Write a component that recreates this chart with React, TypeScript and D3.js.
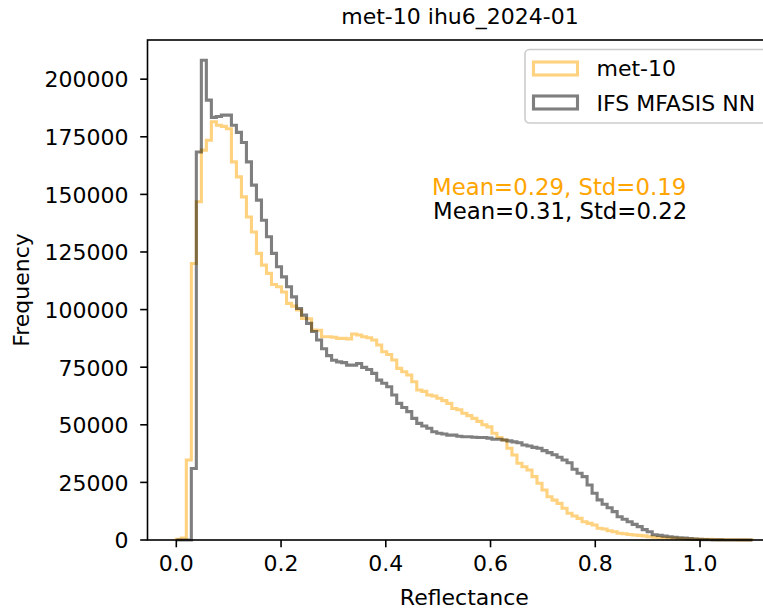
import React from 'react';
import * as d3 from 'd3';

const TITLE = 'met-10 ihu6_2024-01';
const X_LABEL = 'Reflectance';
const Y_LABEL = 'Frequency';
const BIN_MIN = 0;
const BIN_MAX = 1.1;
const BIN_COUNT = 115;
const X_TICKS = [0, 0.2, 0.4, 0.6, 0.8, 1.0];
const Y_TICKS = [0, 25000, 50000, 75000, 100000, 125000, 150000, 175000, 200000];
const SERIES_NAMES = ['met-10', 'IFS MFASIS NN'];
const STATS_TEXT = ['Mean=0.29, Std=0.19', 'Mean=0.31, Std=0.22'];

const met10Counts = [
  300, 800, 34700, 120000, 146800, 169200, 173500, 181500, 180000, 179500,
  178500, 164100, 157600, 148900, 140200, 133700, 124400, 119300, 115700, 110900,
  109900, 107600, 102700, 101500, 99800, 96200, 96000, 91100, 91000, 88200,
  88200, 88000, 87500, 87500, 87300, 89400, 89000, 88200, 87800, 86800,
  84600, 81700, 80500, 78100, 74500, 73000, 71600, 68700, 65100, 64500,
  62900, 62500, 61500, 60500, 59300, 57100, 56500, 55000, 54000, 52800,
  51500, 50000, 49100, 46300, 44500, 43400, 39800, 36900, 33300, 31800,
  30400, 27500, 24600, 21700, 18800, 17300, 15900, 13800, 11600, 10400,
  9400, 7900, 7200, 6500, 5100, 4800, 4000, 3600, 2900, 2700,
  2400, 2200, 2000, 1800, 1400, 1200, 1000, 900, 800, 700,
  600, 500, 450, 400, 350, 300, 250, 200, 150, 120,
  100, 80, 60, 40, 30,
];

const ifsCounts = [
  0, 0, 0, 31000, 168400, 208200, 190900, 183400, 183800, 184400,
  184400, 180000, 176900, 172500, 164100, 154000, 147500, 138800, 131600, 124400,
  118600, 114200, 109900, 105500, 100500, 97600, 94000, 90500, 86800, 83000,
  80000, 78000, 77300, 77000, 75900, 75900, 76600, 74900, 74000, 72300,
  69400, 68000, 66500, 62900, 59300, 57500, 55700, 52800, 50600, 49500,
  48500, 47000, 46300, 46000, 45500, 45500, 45000, 44800, 44800, 44600,
  44500, 44500, 44200, 43700, 43700, 43400, 43000, 42600, 42200, 41200,
  40800, 40200, 39800, 38800, 37900, 37000, 35900, 34700, 33500, 30700,
  29000, 27500, 23900, 20300, 17400, 15500, 14000, 12300, 10100, 9000,
  7900, 6800, 5800, 4500, 3600, 2300, 2000, 1700, 1400, 1200,
  1000, 800, 600, 400, 250, 150, 100, 60, 40, 20,
  10, 5, 0, 0, 0,
];

const W = 763;
const H = 610;
const PLOT = { left: 147.5, right: 781.2, top: 40, bottom: 540 };
const FONT = 'DejaVu Sans, Liberation Sans, sans-serif';
const FS = 22;

export default function App() {
  const x = d3.scaleLinear().domain([-0.055, 1.155]).range([PLOT.left, PLOT.right]);
  const y = d3.scaleLinear().domain([0, 217000]).range([PLOT.bottom, PLOT.top]);
  const edges = d3.range(BIN_COUNT + 1).map((i) => BIN_MIN + (i * (BIN_MAX - BIN_MIN)) / BIN_COUNT);

  const stepPath = (counts: number[]) => {
    const pts: [number, number][] = [[x(edges[0]), y(0)]];
    counts.forEach((c, i) => pts.push([x(edges[i]), y(c)]));
    pts.push([x(edges[BIN_COUNT]), y(0)]);
    return d3.line().curve(d3.curveStepAfter)(pts) || '';
  };

  const colors = ['orange', 'black'];
  const series = [met10Counts, ifsCounts];
  const cx = (PLOT.left + PLOT.right) / 2;

  return (
    <svg
      width={W}
      height={H}
      style={{ position: 'absolute', left: 0, top: 0, background: '#fff' }}
      fontFamily={FONT}
    >
      <rect x={0} y={0} width={W} height={H} fill="#fff" />
      {series.map((s, k) => (
        <path
          key={k}
          d={stepPath(s)}
          fill="none"
          stroke={colors[k]}
          strokeOpacity={0.5}
          strokeWidth={3.1}
          strokeLinejoin="miter"
        />
      ))}
      <rect
        x={PLOT.left}
        y={PLOT.top}
        width={PLOT.right - PLOT.left}
        height={PLOT.bottom - PLOT.top}
        fill="none"
        stroke="#000"
        strokeWidth={1.6}
      />
      {X_TICKS.map((t) => (
        <g key={t} transform={`translate(${x(t)},0)`}>
          <line y1={PLOT.bottom} y2={PLOT.bottom + 7.3} stroke="#000" strokeWidth={1.6} />
          <text y={571} textAnchor="middle" fontSize={FS} fill="#000">
            {d3.format('.1f')(t)}
          </text>
        </g>
      ))}
      {Y_TICKS.map((t) => (
        <g key={t} transform={`translate(0,${y(t)})`}>
          <line x1={PLOT.left} x2={PLOT.left - 7.3} stroke="#000" strokeWidth={1.6} />
          <text x={PLOT.left - 19} y={8.3} textAnchor="end" fontSize={FS} fill="#000">
            {String(t)}
          </text>
        </g>
      ))}
      <text x={cx} y={605} textAnchor="middle" fontSize={FS} fill="#000">
        {X_LABEL}
      </text>
      <text
        transform={`translate(29,${(PLOT.top + PLOT.bottom) / 2}) rotate(-90)`}
        textAnchor="middle"
        fontSize={FS}
        fill="#000"
      >
        {Y_LABEL}
      </text>
      <text x={460} y={24} textAnchor="middle" fontSize={FS} fill="#000">
        {TITLE}
      </text>
      <text x={432} y={195} fontSize={22.8} fill="orange">
        {STATS_TEXT[0]}
      </text>
      <text x={433} y={218.5} fontSize={22.8} fill="#000">
        {STATS_TEXT[1]}
      </text>
      <rect x={525} y={49.5} width={246} height={73.5} rx={4.5} fill="#fff" fillOpacity={0.8} stroke="#cccccc" strokeWidth={1.6} />
      {SERIES_NAMES.map((n, k) => (
        <g key={n}>
          <rect
            x={533.5}
            y={62 + k * 34}
            width={44}
            height={13}
            fill="none"
            stroke={colors[k]}
            strokeOpacity={0.5}
            strokeWidth={3.1}
          />
          <text x={596.5} y={76 + k * 34.5} fontSize={FS} fill="#000">
            {n}
          </text>
        </g>
      ))}
    </svg>
  );
}
